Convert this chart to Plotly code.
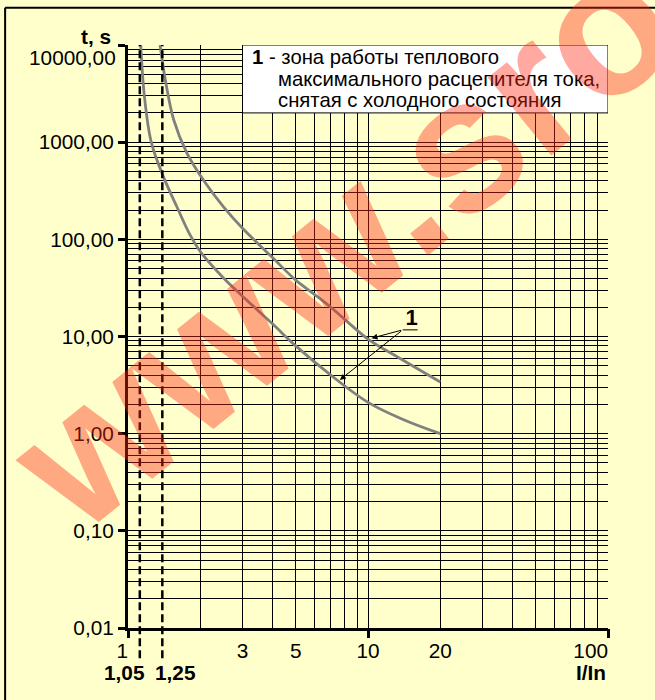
import numpy as np
import plotly.graph_objects as go

# ---------------- data ----------------
# lower boundary of the thermal release zone (cold state)
curve_low_x = [1.13, 1.17, 1.25, 1.40, 1.60, 1.80, 2.0, 2.5, 3.0, 4.0, 5.0, 7.0, 10.0, 14.0, 20.0]
curve_low_y = [10000, 3000, 1000, 450, 215, 115, 75, 40, 26, 13.5, 8.0, 4.0, 2.1, 1.4, 1.0]
# upper boundary of the thermal release zone
curve_high_x = [1.36, 1.43, 1.55, 1.76, 2.06, 2.5, 3.0, 4.0, 5.0, 6.0, 7.0, 8.0, 10.0, 13.5, 20.0]
curve_high_y = [10000, 4400, 1700, 770, 408, 216, 130, 65, 38, 27, 20, 15, 9.4, 6.0, 3.4]

y_tick_vals = [0.01, 0.1, 1, 10, 100, 1000, 10000]
y_tick_text = ["0,01", "0,10", "1,00", "10,00", "100,00", "1000,00", ""]
y_top_label = "10000,00"
x_tick_vals = [1, 3, 5, 10, 20, 100]
x_tick_text = ["1" + "\u00a0" * 2, "3", "5", "10", "20", "100" + "\u00a0" * 6]
x_major_ticks = [1, 10, 100]

dashed_x = [1.12, 1.39]
dashed_labels = ["1,05", "1,25"]

legend_box_x = [3, 100]
legend_box_y = [2000, 10000]
legend_lines = ["<b>1</b> - зона работы теплового",
                "максимального расцепителя тока,",
                "снятая с холодного состояния"]

callout_label = "1"
callout_label_pos = (15.2, 14.8)
callout_base = [(13.95, 11.7), (16.1, 11.7)]
callout_targets = [(10.34, 9.6), (7.63, 3.57)]

x_title = "I/In"
y_title = "t, s"
watermark = "www.sro"

BG = "#FFFFCC"
FONT = "Liberation Sans, Arial, Helvetica, sans-serif"
FS = 20.8
FS_LEG = 20.3

fig = go.Figure()

# legend box (white, covers the grid)
fig.add_trace(go.Scatter(
    x=[legend_box_x[0], legend_box_x[1], legend_box_x[1], legend_box_x[0], legend_box_x[0]],
    y=[legend_box_y[0], legend_box_y[0], legend_box_y[1], legend_box_y[1], legend_box_y[0]],
    mode="lines", fill="toself", fillcolor="white",
    line=dict(color="black", width=1), hoverinfo="skip", showlegend=False))

for cx, cy in [(curve_low_x, curve_low_y), (curve_high_x, curve_high_y)]:
    fig.add_trace(go.Scatter(x=cx, y=cy, mode="lines",
                             line=dict(color="#808080", width=2.8, shape="spline", smoothing=1.0),
                             showlegend=False, hoverinfo="skip"))

# invisible trace to activate the tick-only axis
fig.add_trace(go.Scatter(x=[1, 100], y=[1, 1], xaxis="x2", mode="markers",
                         marker=dict(opacity=0), showlegend=False, hoverinfo="skip"))

# dashed vertical lines
for dx in dashed_x:
    fig.add_shape(type="line", xref="x", yref="paper", x0=dx, x1=dx, y0=-0.052, y1=1,
                  line=dict(color="black", width=2.5, dash="8px,4px"), layer="above")

# callout "1"
fig.add_trace(go.Scatter(x=[callout_base[0][0], callout_base[1][0]],
                         y=[callout_base[0][1], callout_base[1][1]],
                         mode="lines", line=dict(color="black", width=1),
                         showlegend=False, hoverinfo="skip"))
fig.add_trace(go.Scatter(x=[callout_label_pos[0]], y=[callout_label_pos[1]], mode="text",
                         text=["<b>%s</b>" % callout_label],
                         textfont=dict(family=FONT, size=22, color="black"),
                         showlegend=False, hoverinfo="skip"))
for tx, ty in callout_targets:
    fig.add_annotation(x=np.log10(tx), y=np.log10(ty), xref="x", yref="y",
                       ax=np.log10(callout_base[0][0]), ay=np.log10(callout_base[0][1]),
                       axref="x", ayref="y", text="", showarrow=True,
                       arrowhead=2, arrowsize=1.2, arrowwidth=1, arrowcolor="black")

# legend text
fig.add_annotation(x=(250 - 128) / 480, y=(628 - 57) / 583, xref="paper", yref="paper",
                   text=legend_lines[0], showarrow=False, xanchor="left", yanchor="middle",
                   font=dict(family=FONT, size=FS_LEG, color="black"))
for i, ln in enumerate(legend_lines[1:]):
    fig.add_annotation(x=(276 - 128) / 480, y=(628 - (79 + 21 * i)) / 583,
                       xref="paper", yref="paper",
                       text=ln, showarrow=False, xanchor="left", yanchor="middle",
                       font=dict(family=FONT, size=FS_LEG, color="black"))

# top y label (drawn slightly below its tick as in the original)
fig.add_annotation(x=(118 - 128) / 480, y=(628 - 57) / 583, xref="paper", yref="paper",
                   text=y_top_label, showarrow=False, xanchor="right", yanchor="middle",
                   font=dict(family=FONT, size=FS, color="black"))

# axis titles
fig.add_annotation(x=(113 - 128) / 480, y=(628 - 36) / 583, xref="paper", yref="paper",
                   text="<b>%s</b>" % y_title, showarrow=False, xanchor="right", yanchor="middle",
                   font=dict(family=FONT, size=FS, color="black"))
fig.add_annotation(x=(608 - 128) / 480, y=(628 - 672) / 583, xref="paper", yref="paper",
                   text="<b>%s</b>" % x_title, showarrow=False, xanchor="right", yanchor="middle",
                   font=dict(family=FONT, size=FS, color="black"))
# dashed-line labels
fig.add_annotation(x=np.log10(dashed_x[0]), y=(628 - 672) / 583, xref="x", yref="paper",
                   text="<b>%s</b>" % dashed_labels[0], showarrow=False, xanchor="right",
                   yanchor="middle", xshift=6, font=dict(family=FONT, size=FS, color="black"))
fig.add_annotation(x=np.log10(dashed_x[1]), y=(628 - 672) / 583, xref="x", yref="paper",
                   text="<b>%s</b>" % dashed_labels[1], showarrow=False, xanchor="left",
                   yanchor="middle", xshift=-9, font=dict(family=FONT, size=FS, color="black"))

# watermark
fig.add_annotation(x=(342 - 128) / 480, y=(628 - 240) / 583, xref="paper", yref="paper",
                   xanchor="center", yanchor="middle",
                   text="<b>%s</b>" % watermark, showarrow=False, textangle=-39,
                   font=dict(family=FONT, size=190, color="rgba(255,40,20,0.4)"))

# outer frame (left and top edges)
fig.add_shape(type="line", xref="paper", yref="paper", x0=-0.256, x1=-0.256, y0=-0.2, y1=1.064,
              line=dict(color="black", width=2))
fig.add_shape(type="line", xref="paper", yref="paper", x0=-0.256, x1=1.2, y0=1.064, y1=1.064,
              line=dict(color="black", width=2))

grid = dict(showgrid=True, gridcolor="black", gridwidth=1)
fig.update_layout(
    width=655, height=700, autosize=False,
    margin=dict(l=128, r=47, t=45, b=72),
    paper_bgcolor=BG, plot_bgcolor=BG,
    font=dict(family=FONT, size=FS, color="black"),
    xaxis=dict(type="log", range=[0, 2], tickvals=x_tick_vals, ticktext=x_tick_text,
               ticks="", showline=True, linecolor="black", linewidth=3, zeroline=False,
               ticklabelstandoff=2, tickfont=dict(size=FS),
               minor=dict(dtick="D1", ticks="", **grid), **grid),
    xaxis2=dict(type="log", range=[0, 2], overlaying="x", anchor="y", side="bottom",
                tickvals=x_major_ticks, ticks="outside", ticklen=9, tickwidth=2.5,
                tickcolor="black", showticklabels=False, showgrid=False, showline=False,
                zeroline=False),
    yaxis=dict(type="log", range=[-2, 4], tickvals=y_tick_vals, ticktext=y_tick_text,
               ticks="outside", ticklen=7, tickwidth=2.5, tickcolor="black",
               showline=True, linecolor="black", linewidth=3, zeroline=False,
               tickfont=dict(size=FS),
               minor=dict(dtick="D1", ticks="", **grid), **grid),
)

fig.write_html("out.html", config={"displayModeBar": False},
               post_script="document.body.style.margin='0';document.body.style.background='%s';" % BG)
